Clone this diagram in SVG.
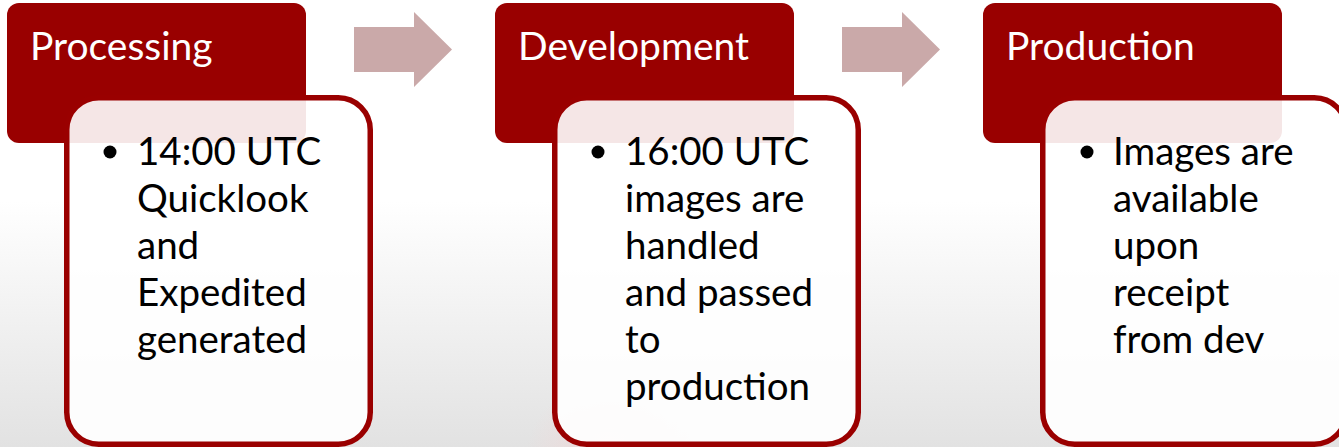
<svg xmlns="http://www.w3.org/2000/svg" width="1339" height="447" viewBox="0 0 1339 447">
  <defs>
    <linearGradient id="bg" x1="0" y1="0" x2="0" y2="1">
      <stop offset="0" stop-color="#ffffff"/>
      <stop offset="0.45" stop-color="#ffffff"/>
      <stop offset="1" stop-color="#e2e2e2"/>
    </linearGradient>
    <radialGradient id="glow" cx="610" cy="462" r="85" gradientUnits="userSpaceOnUse">
      <stop offset="0" stop-color="#f3d6d6" stop-opacity="0.85"/>
      <stop offset="1" stop-color="#f3d6d6" stop-opacity="0"/>
    </radialGradient>
    <style>
      .hdr { fill: #990000; }
      .hdr-text { font-family: Lato, "Open Sans", "Liberation Sans", sans-serif; font-size: 39px; fill: #ffffff; }
      .body { fill: #ffffff; fill-opacity: 0.9; stroke: #9a0000; stroke-width: 5.5; }
      .txt { font-family: Lato, "Open Sans", "Liberation Sans", sans-serif; font-size: 38.5px; fill: #000000; }
      .bullet { fill: #000000; }
      .arrow { fill: #caa9a9; }
    </style>
  </defs>

  <rect x="0" y="0" width="1339" height="447" fill="url(#bg)"/>
  <rect x="500" y="380" width="220" height="67" fill="url(#glow)"/>

  <g id="connectors">
    <polygon class="arrow" points="354,27 414,27 414,12 452,49.5 414,87 414,72 354,72"/>
    <polygon class="arrow" points="842,27 902,27 902,12 940,49.5 902,87 902,72 842,72"/>
  </g>

  <g id="processing">
    <rect class="hdr" x="7" y="3" width="299" height="140" rx="12"/>
    <text class="hdr-text" x="30" y="60">Processing</text>
    <rect class="body" x="66.75" y="97.75" width="303.5" height="346.5" rx="32"/>
    <circle class="bullet" cx="110" cy="152" r="6.5"/>
    <text class="txt">
      <tspan x="137" y="165">14:00 UTC</tspan>
      <tspan x="137" y="212">Quicklook</tspan>
      <tspan x="137" y="259">and</tspan>
      <tspan x="137" y="306">Expedited</tspan>
      <tspan x="137" y="353">generated</tspan>
    </text>
  </g>

  <g id="development">
    <rect class="hdr" x="495" y="3" width="299" height="140" rx="12"/>
    <text class="hdr-text" x="518" y="60">Development</text>
    <rect class="body" x="554.75" y="97.75" width="303.5" height="346.5" rx="32"/>
    <circle class="bullet" cx="598" cy="152" r="6.5"/>
    <text class="txt">
      <tspan x="625" y="165">16:00 UTC</tspan>
      <tspan x="625" y="212">images are</tspan>
      <tspan x="625" y="259">handled</tspan>
      <tspan x="625" y="306">and passed</tspan>
      <tspan x="625" y="353">to</tspan>
      <tspan x="625" y="400">production</tspan>
    </text>
  </g>

  <g id="production">
    <rect class="hdr" x="983" y="3" width="299" height="140" rx="12"/>
    <text class="hdr-text" x="1006" y="60">Production</text>
    <rect class="body" x="1042.75" y="97.75" width="303.5" height="346.5" rx="32"/>
    <circle class="bullet" cx="1087" cy="152" r="6.5"/>
    <text class="txt">
      <tspan x="1113" y="165">Images are</tspan>
      <tspan x="1113" y="212">available</tspan>
      <tspan x="1113" y="259">upon</tspan>
      <tspan x="1113" y="306">receipt</tspan>
      <tspan x="1113" y="353">from dev</tspan>
    </text>
  </g>
</svg>
